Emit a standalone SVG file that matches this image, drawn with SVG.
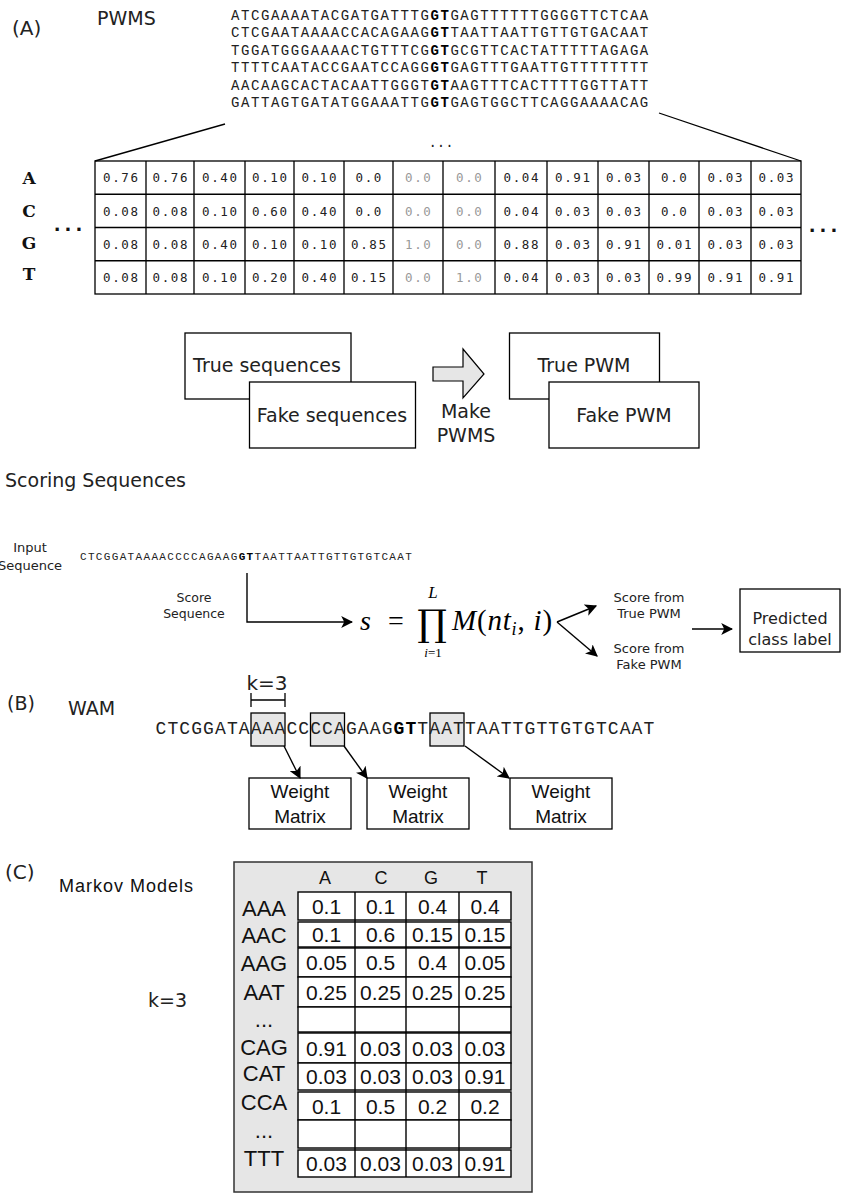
<svg xmlns="http://www.w3.org/2000/svg" width="843" height="1195" viewBox="0 0 843 1195">
<defs>
<style>
.lbl{font-family:"DejaVu Sans",sans-serif;fill:#222}
.ar{font-family:"Liberation Sans",Arial,sans-serif;fill:#111}
.seq{font-family:"Liberation Mono","Courier New",monospace;fill:#222}
.b{font-weight:bold;fill:#000}
.pv{font-family:"DejaVu Sans Mono",monospace;font-size:12.5px;letter-spacing:1.6px;text-anchor:middle;fill:#222}
.gr{fill:#999}
.box{fill:#fff;stroke:#000;stroke-width:1.3}
.obox{fill:none;stroke:#000;stroke-width:1.3}
.ln{fill:none;stroke:#000;stroke-width:1.3}
.arw{fill:none;stroke:#000;stroke-width:1.4;marker-end:url(#ah)}
.mv{font-family:"Liberation Sans",Arial,sans-serif;font-size:21px;text-anchor:middle;fill:#111}
.ml{font-family:"Liberation Sans",Arial,sans-serif;font-size:22px;text-anchor:middle;fill:#111}
.math{font-family:"Liberation Serif","Times New Roman",serif;fill:#000}
.mid{text-anchor:middle}
.gbox{fill:#e6e6e6;stroke:#000;stroke-width:1.3}
</style>
<marker id="ah" viewBox="0 0 10 10" refX="9" refY="5" markerWidth="12" markerHeight="12" markerUnits="userSpaceOnUse" orient="auto">
<path d="M0,0 L10,5 L0,10 L2.5,5 z" fill="#000"/>
</marker>
</defs>
<rect width="843" height="1195" fill="#fff"/>

<!-- Section A -->
<g id="sectionA-labels">
<text class="lbl" x="12" y="35" font-size="20">(A)</text>
<text class="lbl" x="97" y="25" font-size="19">PWMS</text>
</g>

<g id="sequences" class="seq" font-size="14" letter-spacing="1.57">
<text x="231" y="19.5">ATCGAAAATACGATGATTTG<tspan class="b">GT</tspan>GAGTTTTTTGGGGTTCTCAA</text>
<text x="231" y="37">CTCGAATAAAACCACAGAAG<tspan class="b">GT</tspan>TAATTAATTGTTGTGACAAT</text>
<text x="231" y="54.5">TGGATGGGAAAACTGTTTCG<tspan class="b">GT</tspan>GCGTTCACTATTTTTAGAGA</text>
<text x="231" y="72">TTTTCAATACCGAATCCAGG<tspan class="b">GT</tspan>GAGTTTGAATTGTTTTTTTT</text>
<text x="231" y="89.5">AACAAGCACTACAATTGGGT<tspan class="b">GT</tspan>AAGTTTCACTTTTGGTTATT</text>
<text x="231" y="107">GATTAGTGATATGGAAATTG<tspan class="b">GT</tspan>GAGTGGCTTCAGGAAAACAG</text>
<text x="441" y="147" class="mid" letter-spacing="0">...</text>
</g>

<g id="pwm-table">
<rect class="obox" x="95" y="161" width="706" height="133"/>
<path class="ln" d="M95,194.25H801M95,227.5H801M95,260.75H801M146,161V294M194,161V294M245,161V294M294,161V294M344,161V294M393,161V294M443,161V294M495,161V294M547,161V294M598,161V294M649,161V294M699,161V294M751,161V294"/>
<g font-family="DejaVu Serif,serif" font-weight="bold" font-size="17" fill="#111" text-anchor="middle">
<text x="29" y="184">A</text>
<text x="29" y="217">C</text>
<text x="29" y="249">G</text>
<text x="29" y="280">T</text>
</g>
<text x="70" y="231" font-family="DejaVu Sans,sans-serif" font-weight="bold" font-size="18" letter-spacing="4" text-anchor="middle" fill="#111">...</text>
<text x="825" y="232" font-family="DejaVu Sans,sans-serif" font-weight="bold" font-size="18" letter-spacing="4" text-anchor="middle" fill="#111">...</text>
<g transform="translate(0.8,0)">
<text class="pv" x="120.5" y="182">0.76</text><text class="pv" x="170" y="182">0.76</text><text class="pv" x="219.5" y="182">0.40</text><text class="pv" x="269.5" y="182">0.10</text><text class="pv" x="319" y="182">0.10</text><text class="pv" x="368.5" y="182">0.0</text><text class="pv gr" x="418" y="182">0.0</text><text class="pv gr" x="469" y="182">0.0</text><text class="pv" x="521" y="182">0.04</text><text class="pv" x="572.5" y="182">0.91</text><text class="pv" x="623.5" y="182">0.03</text><text class="pv" x="674" y="182">0.0</text><text class="pv" x="725" y="182">0.03</text><text class="pv" x="776" y="182">0.03</text>
<text class="pv" x="120.5" y="215.5">0.08</text><text class="pv" x="170" y="215.5">0.08</text><text class="pv" x="219.5" y="215.5">0.10</text><text class="pv" x="269.5" y="215.5">0.60</text><text class="pv" x="319" y="215.5">0.40</text><text class="pv" x="368.5" y="215.5">0.0</text><text class="pv gr" x="418" y="215.5">0.0</text><text class="pv gr" x="469" y="215.5">0.0</text><text class="pv" x="521" y="215.5">0.04</text><text class="pv" x="572.5" y="215.5">0.03</text><text class="pv" x="623.5" y="215.5">0.03</text><text class="pv" x="674" y="215.5">0.0</text><text class="pv" x="725" y="215.5">0.03</text><text class="pv" x="776" y="215.5">0.03</text>
<text class="pv" x="120.5" y="248.5">0.08</text><text class="pv" x="170" y="248.5">0.08</text><text class="pv" x="219.5" y="248.5">0.40</text><text class="pv" x="269.5" y="248.5">0.10</text><text class="pv" x="319" y="248.5">0.10</text><text class="pv" x="368.5" y="248.5">0.85</text><text class="pv gr" x="418" y="248.5">1.0</text><text class="pv gr" x="469" y="248.5">0.0</text><text class="pv" x="521" y="248.5">0.88</text><text class="pv" x="572.5" y="248.5">0.03</text><text class="pv" x="623.5" y="248.5">0.91</text><text class="pv" x="674" y="248.5">0.01</text><text class="pv" x="725" y="248.5">0.03</text><text class="pv" x="776" y="248.5">0.03</text>
<text class="pv" x="120.5" y="282">0.08</text><text class="pv" x="170" y="282">0.08</text><text class="pv" x="219.5" y="282">0.10</text><text class="pv" x="269.5" y="282">0.20</text><text class="pv" x="319" y="282">0.40</text><text class="pv" x="368.5" y="282">0.15</text><text class="pv gr" x="418" y="282">0.0</text><text class="pv gr" x="469" y="282">1.0</text><text class="pv" x="521" y="282">0.04</text><text class="pv" x="572.5" y="282">0.03</text><text class="pv" x="623.5" y="282">0.03</text><text class="pv" x="674" y="282">0.99</text><text class="pv" x="725" y="282">0.91</text><text class="pv" x="776" y="282">0.91</text>
</g>
</g>

<g id="true-sequences">
<rect class="box" x="185" y="333" width="166" height="66"/>
<text class="lbl mid" x="267" y="372" font-size="19">True sequences</text>
</g>
<g id="fake-sequences">
<rect class="box" x="249.5" y="382" width="166" height="66"/>
<text class="lbl mid" x="332" y="422" font-size="19">Fake sequences</text>
</g>
<g id="make-pwms">
<polygon points="433,367 463,367 463,349 484,374 463,398 463,381 433,381" fill="#e6e6e6" stroke="#000" stroke-width="1.2"/>
<text class="lbl mid" x="466" y="418" font-size="19">Make</text>
<text class="lbl mid" x="466" y="442" font-size="19">PWMS</text>
</g>
<g id="true-pwm">
<rect class="box" x="509.5" y="333" width="150" height="66"/>
<text class="lbl mid" x="584" y="372" font-size="19">True PWM</text>
</g>
<g id="fake-pwm">
<rect class="box" x="549" y="382" width="150" height="66"/>
<text class="lbl mid" x="624" y="422" font-size="19">Fake PWM</text>
</g>

<!-- Scoring -->
<g id="scoring-title">
<text class="lbl" x="5" y="487" font-size="19">Scoring Sequences</text>
</g>
<g id="input-sequence">
<text class="lbl mid" x="30" y="552" font-size="13">Input</text>
<text class="lbl mid" x="30" y="570" font-size="13">Sequence</text>
<text class="seq" x="80" y="560" font-size="11" letter-spacing="1.33">CTCGGATAAAACCCCAGAAG<tspan class="b">GT</tspan>TAATTAATTGTTGTGTCAAT</text>
</g>
<g id="score-sequence-label">
<text class="lbl mid" x="194" y="601.5" font-size="12.5">Score</text>
<text class="lbl mid" x="194" y="617.5" font-size="12.5">Sequence</text>
</g>
<g id="formula" class="math">
<text x="360" y="630" font-size="28" font-style="italic">s</text>
<text x="388" y="630" font-size="28">=</text>
<text x="432" y="636" font-size="37" font-family="DejaVu Serif,serif" text-anchor="middle">∏</text>
<text x="433" y="598" font-size="17" font-style="italic" text-anchor="middle">L</text>
<text x="433" y="657" font-size="13" text-anchor="middle"><tspan font-style="italic">i</tspan>=1</text>
<text x="452" y="630" font-size="29" letter-spacing="0.8"><tspan font-style="italic">M</tspan>(<tspan font-style="italic">nt</tspan><tspan font-style="italic" font-size="18" dy="5">i</tspan><tspan dy="-5">, </tspan><tspan font-style="italic">i</tspan>)</text>
</g>
<g id="score-true">
<text class="lbl mid" x="649" y="602" font-size="13">Score from</text>
<text class="lbl mid" x="649" y="618" font-size="13">True PWM</text>
</g>
<g id="score-fake">
<text class="lbl mid" x="649" y="653" font-size="13">Score from</text>
<text class="lbl mid" x="649" y="669" font-size="13">Fake PWM</text>
</g>
<g id="predicted">
<rect class="obox" x="740" y="589" width="100" height="63"/>
<text class="lbl mid" x="790" y="624" font-size="16">Predicted</text>
<text class="lbl mid" x="790" y="645" font-size="16">class label</text>
</g>

<!-- Section B -->
<g id="sectionB-labels">
<text class="lbl" x="7" y="710" font-size="19">(B)</text>
<text class="lbl" x="68" y="715" font-size="19">WAM</text>
<text class="lbl mid" x="267" y="690" font-size="20">k=3</text>
<path class="ln" d="M251,700H285M251,693V707M285,693V707"/>
</g>
<g id="wam-sequence">
<rect class="gbox" x="251" y="713" width="34" height="33"/>
<rect class="gbox" x="310.5" y="713" width="34" height="33"/>
<rect class="gbox" x="430" y="713" width="34" height="33"/>
<text class="seq" x="155.5" y="734" font-size="18" letter-spacing="1.1" fill="#111">CTCGGATAAAACCCCAGAAG<tspan class="b">GT</tspan>TAATTAATTGTTGTGTCAAT</text>
</g>
<g id="weight-matrix-1">
<rect class="obox" x="249" y="778" width="102" height="51"/>
<text class="ar mid" x="300" y="798" font-size="19">Weight</text>
<text class="ar mid" x="300" y="823" font-size="19">Matrix</text>
</g>
<g id="weight-matrix-2">
<rect class="obox" x="367" y="778" width="102" height="51"/>
<text class="ar mid" x="418" y="798" font-size="19">Weight</text>
<text class="ar mid" x="418" y="823" font-size="19">Matrix</text>
</g>
<g id="weight-matrix-3">
<rect class="obox" x="510" y="778" width="102" height="51"/>
<text class="ar mid" x="561" y="798" font-size="19">Weight</text>
<text class="ar mid" x="561" y="823" font-size="19">Matrix</text>
</g>

<!-- Section C -->
<g id="sectionC-labels">
<text class="lbl" x="5" y="879" font-size="20">(C)</text>
<text class="ar" x="59" y="892" font-size="18" textLength="134">Markov Models</text>
<text class="lbl" x="148" y="1007" font-size="19">k=3</text>
</g>
<g id="markov-table">
<rect x="234" y="862" width="298" height="330" fill="#e6e6e6" stroke="#333" stroke-width="1.5"/>
<g class="ar" font-size="18" text-anchor="middle">
<text x="325" y="884">A</text><text x="381" y="884">C</text><text x="431" y="884">G</text><text x="482" y="884">T</text>
</g>
<g fill="#fff" stroke="#000" stroke-width="1.4">
<rect x="298" y="892" width="213" height="28"/>
<rect x="298" y="922" width="213" height="25"/>
<rect x="298" y="948" width="213" height="29"/>
<rect x="298" y="977" width="213" height="30"/>
<rect x="298" y="1007" width="213" height="25"/>
<rect x="298" y="1033" width="213" height="30"/>
<rect x="298" y="1063" width="213" height="27"/>
<rect x="298" y="1092" width="213" height="28"/>
<rect x="298" y="1120" width="213" height="28"/>
<rect x="298" y="1150" width="213" height="27"/>
</g>
<path d="M355,892V1177M406,892V1177M459,892V1177" stroke="#000" stroke-width="1.4" fill="none"/>
<g class="ml">
<text x="264" y="916">AAA</text>
<text x="264" y="943">AAC</text>
<text x="264" y="971">AAG</text>
<text x="264" y="1000">AAT</text>
<text x="264" y="1027">...</text>
<text x="264" y="1055">CAG</text>
<text x="264" y="1081">CAT</text>
<text x="264" y="1110">CCA</text>
<text x="264" y="1138">...</text>
<text x="264" y="1166">TTT</text>
</g>
<g class="mv">
<text x="326.5" y="913.5">0.1</text><text x="380.5" y="913.5">0.1</text><text x="432.5" y="913.5">0.4</text><text x="485" y="913.5">0.4</text>
<text x="326.5" y="942">0.1</text><text x="380.5" y="942">0.6</text><text x="432.5" y="942">0.15</text><text x="485" y="942">0.15</text>
<text x="326.5" y="970">0.05</text><text x="380.5" y="970">0.5</text><text x="432.5" y="970">0.4</text><text x="485" y="970">0.05</text>
<text x="326.5" y="999.5">0.25</text><text x="380.5" y="999.5">0.25</text><text x="432.5" y="999.5">0.25</text><text x="485" y="999.5">0.25</text>
<text x="326.5" y="1055.5">0.91</text><text x="380.5" y="1055.5">0.03</text><text x="432.5" y="1055.5">0.03</text><text x="485" y="1055.5">0.03</text>
<text x="326.5" y="1084">0.03</text><text x="380.5" y="1084">0.03</text><text x="432.5" y="1084">0.03</text><text x="485" y="1084">0.91</text>
<text x="326.5" y="1113.5">0.1</text><text x="380.5" y="1113.5">0.5</text><text x="432.5" y="1113.5">0.2</text><text x="485" y="1113.5">0.2</text>
<text x="326.5" y="1171">0.03</text><text x="380.5" y="1171">0.03</text><text x="432.5" y="1171">0.03</text><text x="485" y="1171">0.91</text>
</g>
</g>

<!-- Connectors -->
<g id="connectors">
<path class="ln" d="M225,124L95,161"/>
<path class="ln" d="M659,113L801,161"/>
<path class="arw" d="M247,573V622H352"/>
<path class="arw" d="M557,622L596,606"/>
<path class="arw" d="M557,622L597,656"/>
<path class="arw" d="M692,629H732"/>
<path class="arw" d="M284,746L300,778"/>
<path class="arw" d="M344,746L367,778"/>
<path class="arw" d="M465,746L509,778"/>
</g>
</svg>
